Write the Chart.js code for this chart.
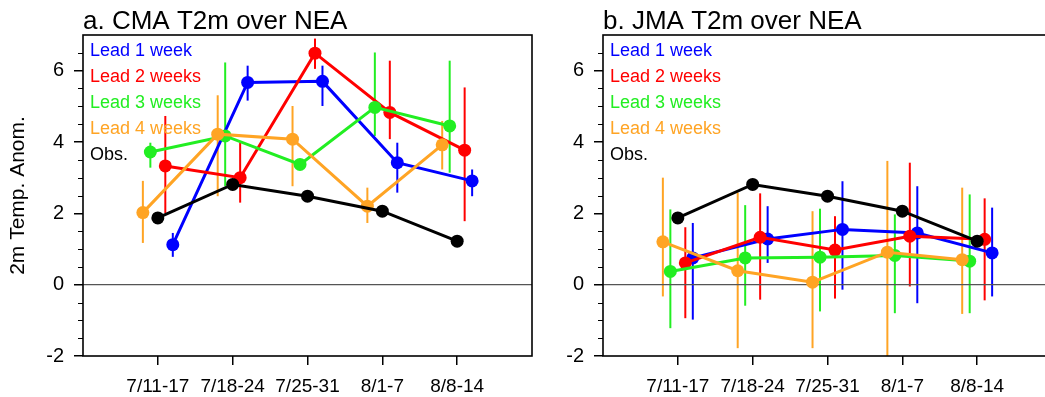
<!DOCTYPE html>
<html>
<head>
<meta charset="utf-8">
<script src="https://cdn.jsdelivr.net/npm/chart.js@4"></script>
<style>
  html, body { margin: 0; padding: 0; background: #fff; overflow: hidden; width: 1045px; height: 397px; }
  .panel { position: absolute; top: 0; width: 545px; height: 397px; }
  #panelA { left: 0; }
  #panelB { left: 520px; }
</style>
</head>
<body>
<div class="panel" id="panelA"><canvas id="chartA"></canvas></div>
<div class="panel" id="panelB"><canvas id="chartB"></canvas></div>
<script>
// categories and ticks
const weeks = ["7/11-17", "7/18-24", "7/25-31", "8/1-7", "8/8-14"];
const yTicks = [-2, 0, 2, 4, 6];
const leadNames = ["Lead 1 week", "Lead 2 weeks", "Lead 3 weeks", "Lead 4 weeks", "Obs."];

// observations (same in both panels)
const obs = [1.87, 2.81, 2.48, 2.06, 1.22];

// a. CMA
const cmaLead1 = [1.12, 5.67, 5.70, 3.42, 2.91];
const cmaLead1Lo = [0.78, 5.16, 5.01, 2.58, 2.48];
const cmaLead1Hi = [1.45, 6.14, 6.14, 3.98, 3.23];
const cmaLead2 = [3.33, 3.00, 6.49, 4.83, 3.77];
const cmaLead2Lo = [2.01, 2.30, 6.05, 4.08, 1.78];
const cmaLead2Hi = [4.73, 3.98, 6.90, 6.28, 5.53];
const cmaLead3 = [3.72, 4.17, 3.37, 4.97, 4.45];
const cmaLead3Lo = [3.28, 2.76, 3.30, 4.17, 3.14];
const cmaLead3Hi = [3.98, 6.23, 3.45, 6.51, 6.28];
const cmaLead4 = [2.02, 4.22, 4.08, 2.20, 3.92];
const cmaLead4Lo = [1.17, 2.48, 2.76, 1.73, 3.23];
const cmaLead4Hi = [2.91, 5.31, 5.01, 2.72, 4.59];

// b. JMA
const jmaLead1 = [0.75, 1.28, 1.55, 1.45, 0.89];
const jmaLead1Lo = [-0.98, 0.61, -0.14, -0.52, -0.33];
const jmaLead1Hi = [1.73, 2.20, 2.90, 2.76, 2.16];
const jmaLead2 = [0.61, 1.33, 0.97, 1.36, 1.27];
const jmaLead2Lo = [-0.94, -0.42, -0.39, -0.05, -0.44];
const jmaLead2Hi = [1.61, 2.56, 1.92, 3.42, 2.42];
const jmaLead3 = [0.37, 0.75, 0.77, 0.82, 0.66];
const jmaLead3Lo = [-1.22, -0.59, -0.75, -0.80, -0.80];
const jmaLead3Hi = [2.11, 2.23, 2.13, 1.97, 2.53];
const jmaLead4 = [1.20, 0.39, 0.07, 0.91, 0.70];
const jmaLead4Lo = [-0.33, -1.78, -1.78, -2.10, -0.82];
const jmaLead4Hi = [3.00, 2.58, 2.06, 3.47, 2.72];

const colors = ["#0000ff", "#ff0000", "#22ee22", "#ffa424", "#000000"];
const xShift = [0.2, 0.1, -0.1, -0.2, 0];
const FONT = "'Liberation Sans', Arial, Helvetica, sans-serif";

function makeDataset(i, values, lo, hi) {
  return {
    label: leadNames[i],
    data: values.map((v, k) => ({ x: k + 1 + xShift[i], y: v })),
    errLo: lo,
    errHi: hi,
    borderColor: colors[i],
    backgroundColor: colors[i],
    borderWidth: 3,
    pointRadius: 6.5,
    pointHoverRadius: 6.5,
    pointBorderWidth: 0,
    tension: 0,
    order: 4 - i
  };
}

// vertical bars for the spread of each lead
const errorBars = {
  id: "errorBars",
  beforeDatasetsDraw(chart) {
    const { ctx, chartArea, scales } = chart;
    ctx.save();
    ctx.beginPath();
    ctx.rect(chartArea.left, chartArea.top, chartArea.width, chartArea.height);
    ctx.clip();
    ctx.lineWidth = 2;
    chart.data.datasets.slice().reverse().forEach((ds) => {
      if (!ds.errLo) return;
      ctx.strokeStyle = ds.borderColor;
      ds.data.forEach((p, k) => {
        const x = scales.x.getPixelForValue(p.x);
        ctx.beginPath();
        ctx.moveTo(x, scales.y.getPixelForValue(ds.errLo[k]));
        ctx.lineTo(x, scales.y.getPixelForValue(ds.errHi[k]));
        ctx.stroke();
      });
    });
    ctx.restore();
  }
};

// frame, zero line, minor ticks, title and text legend
const decorations = {
  id: "decorations",
  beforeDatasetsDraw(chart) {
    const { ctx, chartArea, scales } = chart;
    const y0 = scales.y.getPixelForValue(0);
    ctx.save();
    ctx.strokeStyle = "#555";
    ctx.lineWidth = 1.2;
    ctx.beginPath();
    ctx.moveTo(chartArea.left, y0);
    ctx.lineTo(chartArea.right, y0);
    ctx.stroke();
    ctx.restore();
  },
  afterDraw(chart, args, opts) {
    const { ctx, chartArea, scales } = chart;
    ctx.save();
    ctx.strokeStyle = "#000";
    ctx.lineWidth = 1.6;
    ctx.strokeRect(chartArea.left, chartArea.top, chartArea.width, chartArea.height);

    // minor ticks every 0.5
    ctx.lineWidth = 1;
    for (let v = -1.5; v < 7; v += 0.5) {
      if (v % 2 === 0) continue;
      const y = Math.round(scales.y.getPixelForValue(v)) + 0.5;
      ctx.beginPath();
      ctx.moveTo(chartArea.left - 5, y);
      ctx.lineTo(chartArea.left, y);
      ctx.stroke();
    }

    ctx.fillStyle = "#000";
    ctx.font = "26px " + FONT;
    ctx.textBaseline = "alphabetic";
    ctx.textAlign = "left";
    ctx.fillText(opts.title, chartArea.left, 29);

    ctx.font = "18px " + FONT;
    ctx.textBaseline = "middle";
    leadNames.forEach((name, i) => {
      ctx.fillStyle = colors[i];
      ctx.fillText(name, chartArea.left + 7, 51 + i * 26);
    });
    ctx.restore();
  }
};

function makePanel(canvasId, title, showYTitle, series) {
  const datasets = series.map((s, i) => makeDataset(i, s[0], s[1], s[2]));
  datasets.push(makeDataset(4, obs, null, null));

  return new Chart(document.getElementById(canvasId).getContext("2d"), {
    type: "line",
    data: { datasets: datasets },
    options: {
      responsive: false,
      animation: false,
      devicePixelRatio: 1,
      layout: { padding: { top: 35, right: 13, bottom: 0, left: 0 } },
      plugins: {
        legend: { display: false },
        tooltip: { enabled: false },
        decorations: { title: title }
      },
      scales: {
        x: {
          type: "linear",
          min: 0,
          max: 6,
          afterBuildTicks: (scale) => {
            scale.ticks = weeks.map((w, k) => ({ value: k + 1 }));
          },
          afterFit: (scale) => { scale.height = 41; },
          ticks: {
            autoSkip: false,
            maxRotation: 0,
            padding: 10,
            color: "#000",
            font: { family: FONT, size: 19 },
            callback: (v) => weeks[v - 1]
          },
          grid: { drawOnChartArea: false, tickLength: 9, color: "#000", lineWidth: 1.5 },
          border: { display: false }
        },
        y: {
          type: "linear",
          min: -2,
          max: 7,
          afterBuildTicks: (scale) => {
            scale.ticks = yTicks.map((v) => ({ value: v }));
          },
          afterFit: (scale) => { scale.width = 83; },
          ticks: {
            padding: 10,
            color: "#000",
            font: { family: FONT, size: 20 }
          },
          grid: { drawOnChartArea: false, tickLength: 9, color: "#000", lineWidth: 1.5 },
          border: { display: false },
          title: {
            display: showYTitle,
            text: "2m Temp. Anom.",
            color: "#000",
            font: { family: FONT, size: 21 },
            padding: { top: 6, bottom: 0 }
          }
        }
      }
    },
    plugins: [errorBars, decorations]
  });
}

const canvasA = document.getElementById("chartA");
const canvasB = document.getElementById("chartB");
canvasA.width = 545; canvasA.height = 397;
canvasB.width = 545; canvasB.height = 397;

makePanel("chartA", "a. CMA T2m over NEA", true, [
  [cmaLead1, cmaLead1Lo, cmaLead1Hi],
  [cmaLead2, cmaLead2Lo, cmaLead2Hi],
  [cmaLead3, cmaLead3Lo, cmaLead3Hi],
  [cmaLead4, cmaLead4Lo, cmaLead4Hi]
]);

makePanel("chartB", "b. JMA T2m over NEA", false, [
  [jmaLead1, jmaLead1Lo, jmaLead1Hi],
  [jmaLead2, jmaLead2Lo, jmaLead2Hi],
  [jmaLead3, jmaLead3Lo, jmaLead3Hi],
  [jmaLead4, jmaLead4Lo, jmaLead4Hi]
]);
</script>
</body>
</html>
